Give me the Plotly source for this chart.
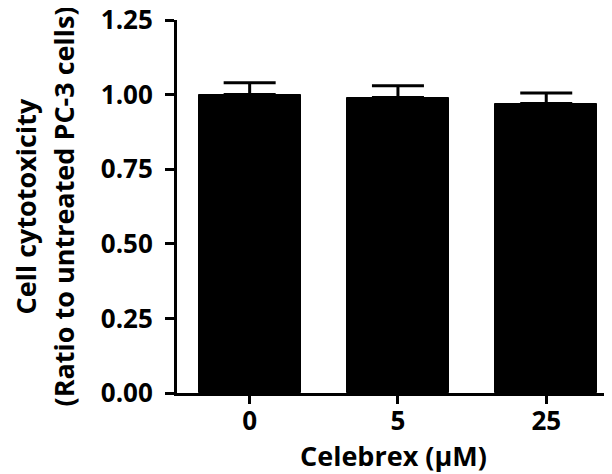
import plotly.graph_objects as go

categories = ["0", "5", "25"]
values = [1.00, 0.99, 0.97]
errors = [0.04, 0.04, 0.035]
y_ticks = [0, 0.25, 0.5, 0.75, 1.0, 1.25]
y_tick_labels = ["0.00", "0.25", "0.50", "0.75", "1.00", "1.25"]
x_title = "Celebrex (μM)"
y_title_line1 = "Cell cytotoxicity"
y_title_line2 = "(Ratio to untreated PC-3 cells)"

FONT = "Open Sans"
TICK_SIZE = 26
TITLE_SIZE = 27

fig = go.Figure()
fig.add_trace(go.Bar(
    x=list(range(len(categories))),
    y=values,
    width=0.69,
    marker=dict(color="black", line=dict(color="black", width=1)),
    error_y=dict(type="data", array=errors, arrayminus=[0] * len(errors),
                 symmetric=False, color="black", thickness=3, width=26),
    showlegend=False,
))

# page body has an 8px margin, so the figure is sized to fit the 612x474 window
fig.update_layout(
    width=604, height=466,
    margin=dict(l=169, r=2, t=12, b=81, autoexpand=False),
    plot_bgcolor="white", paper_bgcolor="white",
    font=dict(family=FONT, size=TICK_SIZE, color="black"),
    bargap=0,
)
fig.update_xaxes(
    range=[-0.49, 2.43], automargin=False,
    tickmode="array", tickvals=list(range(len(categories))), ticktext=categories,
    showline=True, linecolor="black", linewidth=3,
    ticks="outside", ticklen=8, tickwidth=3, tickcolor="black",
    tickfont=dict(family=FONT, size=TICK_SIZE, color="black", weight="bold"),
    ticklabelstandoff=-5, ticklabeloverflow="allow",
    showgrid=False, zeroline=False,
)
fig.update_yaxes(
    range=[0, 1.25], automargin=False,
    tickmode="array", tickvals=y_ticks, ticktext=y_tick_labels,
    showline=True, linecolor="black", linewidth=3,
    ticks="outside", ticklen=9, tickwidth=3, tickcolor="black",
    tickfont=dict(family=FONT, size=TICK_SIZE, color="black", weight="bold"),
    ticklabelstandoff=7, ticklabeloverflow="allow",
    showgrid=False, zeroline=False,
)
fig.add_annotation(text="<b>" + x_title + "</b>", xref="paper", yref="paper",
                   x=0.5, y=0, xanchor="center", yanchor="middle", borderpad=0,
                   yshift=-62, showarrow=False, font=dict(family=FONT, size=TITLE_SIZE))
fig.add_annotation(text="<b>" + y_title_line1 + "</b>", xref="paper", yref="paper",
                   x=0, y=0.5, xanchor="center", yanchor="middle", textangle=-90, borderpad=0,
                   xshift=25 - 177, showarrow=False, font=dict(family=FONT, size=TITLE_SIZE))
fig.add_annotation(text="<b>" + y_title_line2 + "</b>", xref="paper", yref="paper",
                   x=0, y=0.5, xanchor="center", yanchor="middle", textangle=-90, borderpad=0,
                   xshift=63 - 177, showarrow=False, font=dict(family=FONT, size=TITLE_SIZE))

fig.write_html("out.html")
